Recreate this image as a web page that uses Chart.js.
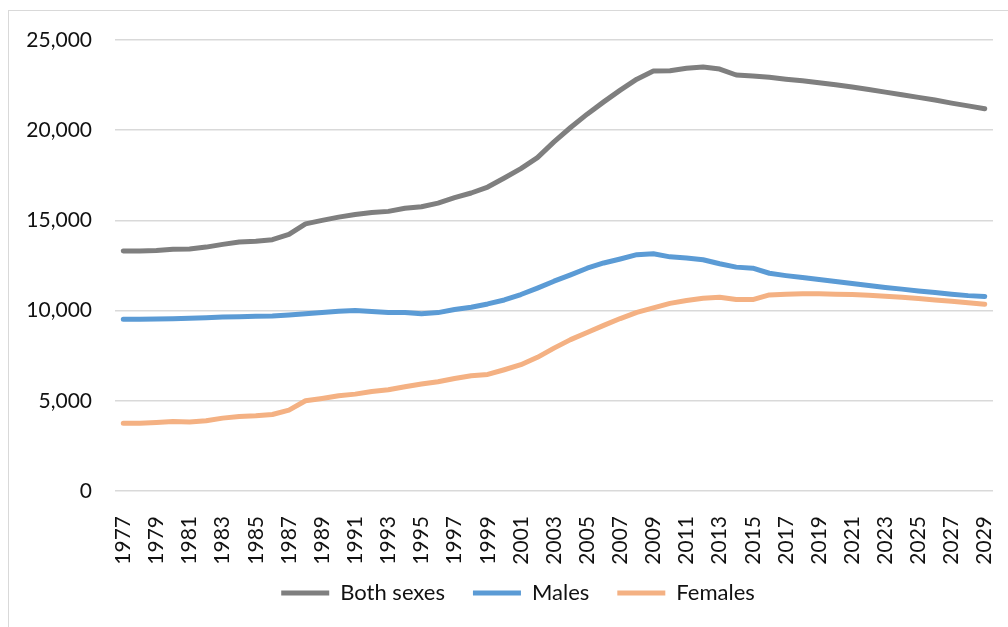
<!DOCTYPE html>
<html>
<head>
<meta charset="utf-8">
<script src="https://cdn.jsdelivr.net/npm/chart.js@4"></script>
<style>
  html, body { margin: 0; padding: 0; background: #fff; overflow: hidden; }
  #frame {
    position: absolute; left: 8px; top: 10px;
    width: 1020px; height: 640px;
    border: 1px solid #d9d9d9;
  }
</style>
</head>
<body>
<div id="frame"><canvas id="myChart"></canvas></div>
<script>
const years = ['1977', '1978', '1979', '1980', '1981', '1982', '1983', '1984', '1985', '1986',
    '1987', '1988', '1989', '1990', '1991', '1992', '1993', '1994', '1995', '1996',
    '1997', '1998', '1999', '2000', '2001', '2002', '2003', '2004', '2005', '2006',
    '2007', '2008', '2009', '2010', '2011', '2012', '2013', '2014', '2015', '2016',
    '2017', '2018', '2019', '2020', '2021', '2022', '2023', '2024', '2025', '2026',
    '2027', '2028', '2029'];

const bothSexes = [13300, 13310, 13330, 13400, 13420, 13520, 13670, 13800, 13850, 13930,
    14220, 14810, 15000, 15180, 15330, 15440, 15500, 15670, 15760, 15960,
    16260, 16520, 16850, 17350, 17870, 18480, 19350, 20150, 20890, 21570,
    22220, 22830, 23280, 23300, 23430, 23500, 23390, 23060, 23000, 22930,
    22830, 22740, 22630, 22520, 22390, 22260, 22110, 21960, 21820, 21670,
    21500, 21350, 21190];

const males = [9520, 9520, 9530, 9550, 9580, 9610, 9640, 9660, 9680, 9700,
    9760, 9830, 9890, 9960, 10000, 9950, 9900, 9890, 9820, 9890,
    10060, 10190, 10370, 10590, 10890, 11250, 11630, 11980, 12350, 12640,
    12860, 13100, 13150, 12980, 12920, 12820, 12600, 12410, 12350, 12070,
    11940, 11830, 11720, 11610, 11500, 11390, 11280, 11190, 11090, 11000,
    10910, 10830, 10780];

const females = [3760, 3760, 3800, 3850, 3830, 3890, 4040, 4130, 4170, 4240,
    4480, 5000, 5130, 5280, 5370, 5520, 5610, 5780, 5930, 6060,
    6240, 6390, 6460, 6720, 7000, 7410, 7920, 8390, 8790, 9180,
    9560, 9900, 10150, 10400, 10560, 10680, 10740, 10620, 10610, 10870,
    10910, 10930, 10930, 10910, 10890, 10850, 10800, 10740, 10670, 10590,
    10520, 10440, 10350];

const yTicks = [0, 5000, 10000, 15000, 20000, 25000];

Chart.defaults.font.family = 'Lato, "Open Sans", sans-serif';
Chart.defaults.font.size = 21;
Chart.defaults.color = '#111';

function lineSet(label, data, color) {
    return {
        label: label,
        data: data,
        borderColor: color,
        backgroundColor: color,
        borderWidth: 5,
        borderCapStyle: 'round',
        borderJoinStyle: 'round',
        pointRadius: 0,
        tension: 0
    };
}

// legend sits centred on the whole chart frame in the original, a bit under the year labels
const placeLegend = {
    id: 'placeLegend',
    afterLayout(chart) {
        const lg = chart.legend;
        const h = lg.bottom - lg.top;
        lg.left += 17;
        lg.right += 17;
        lg.top = 543;
        lg.bottom = 543 + h;
    }
};

const ctx = document.getElementById('myChart');

new Chart(ctx, {
    type: 'line',
    data: {
        labels: years,
        datasets: [
            lineSet('Both sexes', bothSexes, '#7f7f7f'),
            lineSet('Males', males, '#5b9bd5'),
            lineSet('Females', females, '#f4b183')
        ]
    },
    plugins: [placeLegend],
    options: {
        responsive: true,
        maintainAspectRatio: false,
        animation: false,
        layout: {
            padding: { top: 29, left: 0, right: 36, bottom: 0 }
        },
        plugins: {
            tooltip: { enabled: false },
            legend: {
                position: 'bottom',
                labels: {
                    usePointStyle: true,
                    pointStyle: 'line',
                    pointStyleWidth: 48,
                    padding: 28,
                    color: '#111',
                    font: { size: 22 }
                }
            }
        },
        scales: {
            x: {
                offset: true,
                grid: { display: false },
                border: { display: false },
                ticks: {
                    autoSkip: false,
                    minRotation: 90,
                    maxRotation: 90,
                    padding: 17,
                    callback: function (value, index) {
                        return index % 2 === 0 ? years[index] : '';
                    }
                },
                afterFit: function (axis) { axis.height = 100; }
            },
            y: {
                min: 0,
                max: 25000,
                afterBuildTicks: function (axis) {
                    axis.ticks = yTicks.map(v => ({ value: v }));
                },
                grid: { color: '#d9d9d9', lineWidth: 1.5, drawTicks: false },
                border: { display: false },
                ticks: {
                    padding: 23,
                    callback: function (value) {
                        return value.toLocaleString('en-US');
                    }
                },
                afterFit: function (axis) {
                    axis.width = 106;
                    axis.paddingTop = 0;
                    axis.paddingBottom = 0;
                }
            }
        }
    }
});
</script>
</body>
</html>
